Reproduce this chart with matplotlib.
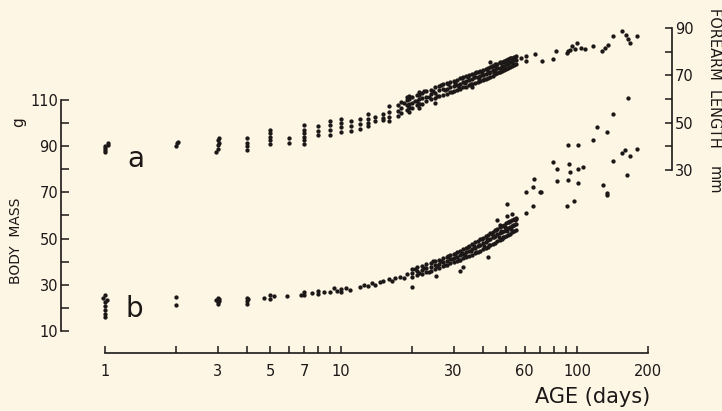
import matplotlib
matplotlib.use("Agg")
import matplotlib.pyplot as plt
from matplotlib.ticker import FixedLocator, NullFormatter, FixedFormatter

# ---------------- data ----------------
# (a) forearm length (mm, right axis) vs age (days)
a_day = [
    1, 1, 1, 1, 1.03, 1.03,
    2, 2.02, 2.04,
    2.95, 3, 3, 3.05, 3, 3.05,
    4, 4, 4, 4,
    5, 5, 5, 5, 5,
    6, 6,
    7, 7, 7, 7, 7, 7,
    8, 8, 8,
    9, 9, 9, 9,
    10, 10, 10, 10,
    11, 11, 11,
    12, 12, 12,
    13, 13, 13, 13,
    14, 14,
    15, 15, 15,
    16, 16, 16, 16,
    17.5, 17.5, 17.5,
    19.5, 19.5, 19.5, 19.5, 19.5,
    21.5, 21.5, 21.5, 21.5, 21.5,
    18, 18, 18, 19, 19, 19, 20, 20, 20, 21, 21, 21, 22, 22, 22,
    23, 23, 23, 24, 24, 24, 25, 25, 25, 26, 26, 26, 27, 27, 27,
    28, 28, 28, 29, 29, 29, 30, 30, 30, 31, 31, 31, 32, 32, 32,
    33, 33, 33, 34, 34, 34, 35, 35, 35, 36, 36, 36, 37, 37, 37,
    38, 38, 38, 39, 39, 39, 40, 40, 40, 41, 41, 41, 42, 42, 42,
    43, 43, 43, 44, 44, 44, 45, 45, 45, 46, 46, 46, 47, 47, 47,
    48, 48, 48, 49, 49, 49, 50, 50, 50, 51, 51, 51, 52, 52, 52,
    53, 53, 53, 54, 54, 54, 55, 55, 55,
    18.5, 19.5, 20.5, 21.5, 22.5, 23.5, 24.5, 25.5, 26.5, 27.5, 28.5, 29.5,
    30.5, 31.5, 32.5, 33.5, 34.5, 35.5, 36.5, 37.5, 38.5, 39.5, 40.5, 41.5,
    42.5, 43.5, 44.5, 45.5, 46.5, 47.5, 48.5, 49.5, 50.5, 51.5, 52.5, 53.5, 54.5,
    19, 25, 36, 43,
    58, 60.6, 60.6, 66.4, 71.2, 79.3, 81.5, 90.7, 91.6, 93.5, 95.5,
    98, 100, 103.5, 108, 117, 128, 131, 135, 142, 155, 162, 165, 168, 179,
]
a_len = [
    37.5, 38.5, 39.2, 40.0, 40.6, 41.2,
    40.3, 41.2, 42.0,
    37.8, 39.0, 40.5, 41.5, 42.5, 43.5,
    38.6, 40.0, 41.5, 43.5,
    40.8, 42.5, 44.0, 45.5, 47.0,
    41.6, 43.5,
    40.8, 42.5, 44.0, 45.5, 47.0, 49.0,
    45.0, 46.5, 48.4,
    45.0, 47.0, 49.0, 50.5,
    46.0, 48.0, 50.0, 51.4,
    46.5, 48.5, 50.5,
    47.2, 49.5, 51.4,
    48.5, 50.0, 51.5, 53.5,
    50.6, 52.5,
    51.0, 52.0, 53.5,
    50.8, 52.5, 54.5, 57.0,
    53.0, 55.0, 57.5,
    54.5, 56.0, 58.0, 60.0, 61.2,
    56.0, 58.0, 60.0, 61.5, 63.0,
    54.0, 56.3, 58.6, 55.2, 57.6, 59.4, 56.0, 58.4, 60.8, 57.4, 59.3, 61.5, 58.0, 60.6, 62.7,
    59.1, 61.0, 63.4, 59.8, 62.2, 64.0, 60.5, 62.7, 64.9, 61.4, 63.6, 65.5, 61.8, 64.1, 66.3,
    62.3, 64.4, 66.6, 63.0, 65.2, 67.1, 63.2, 65.6, 67.8, 63.9, 66.1, 68.2, 64.3, 66.4, 68.7,
    64.9, 67.1, 69.2, 65.2, 67.4, 69.8, 65.9, 68.0, 70.1, 66.3, 68.6, 70.6, 66.8, 69.1, 71.0,
    67.3, 69.4, 71.6, 67.6, 69.9, 71.9, 68.0, 70.3, 72.4, 68.6, 70.6, 72.8, 69.0, 71.3, 73.2,
    69.5, 71.5, 73.7, 69.9, 72.1, 74.0, 70.4, 72.4, 74.6, 70.8, 73.1, 75.0, 71.3, 73.3, 75.5,
    71.7, 73.9, 75.8, 72.2, 74.1, 76.2, 72.6, 74.7, 76.5, 73.1, 75.0, 76.9, 73.5, 75.5, 77.2,
    74.0, 75.8, 77.5, 74.4, 76.3, 77.8, 74.9, 76.5, 78.1,
    58.5, 56.8, 59.3, 58.0, 63.3, 60.8, 63.5, 61.4, 65.8, 63.9, 66.4, 63.1,
    66.6, 65.0, 69.0, 66.7, 69.1, 66.4, 69.3, 71.6, 68.6, 71.0, 68.4, 72.8,
    71.1, 73.8, 70.8, 73.4, 71.2, 75.3, 73.3, 75.6, 73.2, 75.6, 77.5, 75.0, 77.3,
    61.0, 58.5, 65.0, 75.5,
    77.2, 78.0, 75.9, 78.9, 75.9, 77.1, 80.1, 79.3, 80.1, 80.6, 82.3,
    81.0, 83.6, 81.4, 81.0, 82.3, 80.1, 81.4, 82.7, 86.6, 88.6, 86.9, 85.2, 83.6, 86.6,
]

# (b) body mass (g, left axis) vs age (days)
b_day = [
    1, 0.98, 1.02, 1, 1, 1, 1, 1,
    2, 2,
    2.95, 3, 3.05, 3, 3.05, 3,
    4, 4, 4, 4.05,
    4.7, 5, 5, 5.2, 5.9,
    6.8, 7, 7, 7.5, 8, 8, 8.5,
    9, 9.3, 9.6, 10, 10, 10.5, 10.9,
    12, 12.5, 13, 13.5, 14, 14.6,
    15, 16, 16.5, 17, 17.8, 18.5, 19, 20,
    20, 20, 20, 21, 21, 21, 22, 22, 22, 23, 23, 23, 24, 24, 24,
    25, 25, 25, 26, 26, 26, 27, 27, 27, 28, 28, 28, 29, 29, 29,
    30, 30, 30, 31, 31, 31, 32, 32, 32, 33, 33, 33, 34, 34, 34,
    35, 35, 35, 36, 36, 36, 37, 37, 37, 38, 38, 38, 39, 39, 39,
    40, 40, 40, 41, 41, 41, 42, 42, 42, 43, 43, 43, 44, 44, 44,
    45, 45, 45, 46, 46, 46, 47, 47, 47, 48, 48, 48, 49, 49, 49,
    50, 50, 50, 51, 51, 51, 52, 52, 52, 53, 53, 53, 54, 54, 54,
    55, 55, 55,
    20.5, 21.5, 22.5, 23.5, 24.5, 25.5, 26.5, 27.5, 28.5, 29.5, 30.5, 31.5,
    32.5, 33.5, 34.5, 35.5, 36.5, 37.5, 38.5, 39.5, 40.5, 41.5, 42.5, 43.5,
    44.5, 45.5, 46.5, 47.5, 48.5, 49.5, 50.5, 51.5, 52.5, 53.5, 54.5,
    25.3, 31.8, 32.9, 41.8, 45.7, 50.5, 50.5, 53, 55, 47,
    60.6, 65, 60.6, 69.6, 66, 65,
    79, 92.5, 82, 93, 101, 106, 142, 70.5, 82, 91.6, 101, 129, 134, 134,
    163, 90.7, 97, 91.6, 101, 117, 121, 134, 142, 165, 155, 159, 168, 179,
]
b_mass = [
    25.5, 24.5, 23.5, 22.5, 21.0, 19.0, 17.5, 16.0,
    24.7, 21.3,
    23.5, 24.5, 23.8, 22.5, 22.8, 21.5,
    21.5, 23.0, 24.5, 23.8,
    24.5, 24.0, 25.5, 25.0, 25.2,
    25.5, 27.0, 25.8, 26.5, 26.0, 27.5, 26.8,
    27.0, 28.5, 27.5, 28.0, 26.8, 28.8, 27.6,
    29.0, 30.0, 29.5, 30.8, 30.0, 31.2,
    31.5, 32.5, 31.8, 33.0, 33.4, 33.0, 34.5, 29.0,
    33.5, 35.3, 37.0, 34.2, 35.9, 37.6, 34.8, 36.6, 38.3, 35.6, 37.3, 38.9, 36.1, 37.8, 39.6,
    36.9, 38.5, 40.2, 37.4, 39.2, 40.9, 38.1, 39.8, 41.5, 38.6, 40.4, 42.1, 39.3, 41.0, 42.8,
    39.8, 41.6, 43.4, 40.4, 42.2, 44.0, 40.9, 42.8, 44.7, 41.5, 43.4, 45.3, 42.0, 44.0, 46.0,
    42.6, 44.7, 46.6, 42.9, 45.4, 47.8, 43.6, 46.0, 48.4, 44.2, 46.7, 49.1, 44.8, 47.3, 49.7,
    45.3, 48.0, 50.4, 45.9, 48.6, 51.1, 46.5, 49.3, 51.7, 47.1, 49.9, 52.3, 47.7, 50.6, 53.0,
    48.3, 51.2, 53.6, 48.8, 51.8, 54.2, 49.4, 52.4, 54.9, 50.0, 53.0, 55.5, 50.6, 53.5, 56.1,
    51.1, 54.0, 56.6, 51.7, 54.5, 57.2, 52.2, 55.0, 57.6, 52.8, 55.4, 58.1, 53.3, 55.9, 58.5,
    53.8, 56.4, 59.0,
    37.0, 35.1, 37.2, 35.7, 40.2, 38.1, 40.5, 38.6, 42.4, 41.0, 43.2, 40.6,
    43.7, 42.7, 46.4, 44.5, 46.9, 44.0, 47.4, 50.0, 47.0, 49.9, 47.2, 52.0,
    50.7, 53.7, 50.5, 53.4, 50.7, 55.2, 53.4, 57.3, 54.0, 55.9, 58.0,
    33.8, 36.0, 37.7, 42.0, 58.1, 59.8, 65.0, 60.5, 58.5, 56.0,
    61.1, 64.1, 70.2, 70.2, 75.8, 72.3,
    83.2, 82.3, 80.1, 78.8, 80.1, 81.0, 83.6, 70.2, 74.9, 75.4, 74.0, 73.2, 69.7, 68.9,
    77.5, 64.1, 66.3, 90.5, 90.5, 92.7, 98.3, 96.1, 104.0, 110.9, 87.0, 88.4, 85.8, 88.8,
]

x_major = [1, 3, 5, 7, 10, 30, 60, 100, 200]
x_minor = [2, 4, 6, 8, 9, 20, 40, 50, 70, 80, 90]
mass_major = [10, 30, 50, 70, 90, 110]
mass_minor = [20, 40, 60, 80, 100]
len_major = [30, 50, 70, 90]
len_minor = [40, 60, 80]

# ---------------- style ----------------
INK = "#1c1818"
BG = "#fdf6e4"
W, H = 722, 411
plt.rcParams["font.family"] = ["DejaVu Sans"]

fig = plt.figure(figsize=(W / 100, H / 100), dpi=100, facecolor=BG)

def fx(px):
    return px / W

def fy(py):
    return 1 - py / H

ax = fig.add_axes([fx(61), fy(353), fx(672) - fx(61), fy(28) - fy(353)])
ax.set_facecolor("none")
ax.set_xscale("log")
ax.set_xlim(10 ** ((61 - 105) / 236), 10 ** ((672 - 105) / 236))
ax.set_ylim(10 - (353 - 331) / 2.31, 110 + (100 - 28) / 2.31)

ax2 = ax.twinx()
ax2.set_ylim(30 - (353 - 170) / (142 / 60), 90)

for s in ["top", "right"]:
    ax.spines[s].set_visible(False)
for s in ["top", "left", "bottom"]:
    ax2.spines[s].set_visible(False)
ax.spines["left"].set_bounds(10, 110)
ax.spines["bottom"].set_bounds(1, 200)
ax2.spines["right"].set_bounds(30, 90)
for sp in [ax.spines["left"], ax.spines["bottom"], ax2.spines["right"]]:
    sp.set_color(INK)
    sp.set_linewidth(1.2)

ax.xaxis.set_major_locator(FixedLocator(x_major))
ax.xaxis.set_major_formatter(FixedFormatter([str(v) for v in x_major]))
ax.xaxis.set_minor_locator(FixedLocator(x_minor))
ax.xaxis.set_minor_formatter(NullFormatter())
ax.tick_params(axis="x", which="both", direction="in", length=5, width=1.1,
               color=INK, labelcolor=INK, labelsize=10.5, pad=8)

ax.yaxis.set_major_locator(FixedLocator(mass_major))
ax.yaxis.set_minor_locator(FixedLocator(mass_minor))
ax.yaxis.set_minor_formatter(NullFormatter())
ax.tick_params(axis="y", which="both", direction="in", length=6, width=1.1,
               color=INK, labelcolor=INK, labelsize=10.5, pad=2)

ax2.yaxis.set_major_locator(FixedLocator(len_major))
ax2.yaxis.set_minor_locator(FixedLocator(len_minor))
ax2.yaxis.set_minor_formatter(NullFormatter())
ax2.tick_params(axis="y", which="both", direction="in", length=5, width=1.1,
                color=INK, labelcolor=INK, labelsize=10.5, pad=2)

ax.plot(b_day, b_mass, "o", ms=3.1, color=INK, mec="none")
ax2.plot(a_day, a_len, "o", ms=3.1, color=INK, mec="none")

# labels
fig.text(fx(127), fy(167), "a", fontsize=20, color=INK, va="baseline", ha="left")
fig.text(fx(126), fy(317), "b", fontsize=20, color=INK, va="baseline", ha="left")
fig.text(fx(650), fy(403), "AGE (days)", fontsize=15, color=INK, va="baseline", ha="right")
fig.text(fx(16), fy(241), "BODY  MASS", fontsize=10, color=INK, rotation=90,
         ha="center", va="center")
fig.text(fx(19), fy(122), "g", fontsize=11, color=INK, rotation=90,
         ha="center", va="center")
fig.text(fx(714), fy(78), "FOREARM  LENGTH", fontsize=10.5, color=INK, rotation=-90,
         ha="center", va="center")
fig.text(fx(714), fy(180), "mm", fontsize=10.5, color=INK, rotation=-90,
         ha="center", va="center")

fig.savefig("out.png", dpi=100, facecolor=BG)
